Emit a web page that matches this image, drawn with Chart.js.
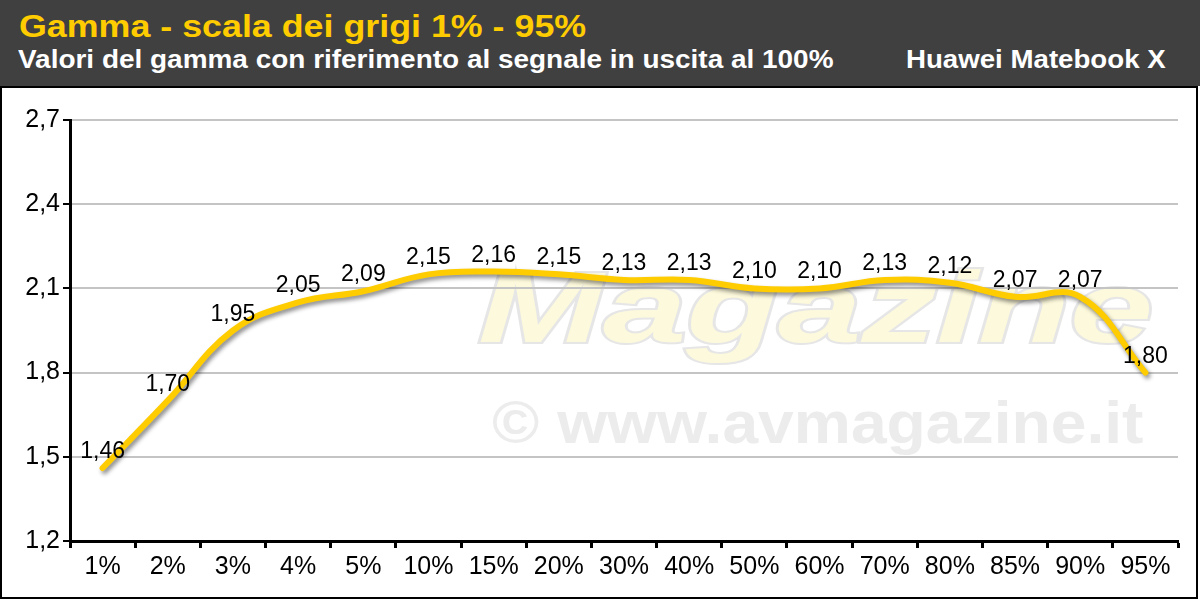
<!DOCTYPE html>
<html>
<head>
<meta charset="utf-8">
<script src="https://cdn.jsdelivr.net/npm/chart.js@4.4.1/dist/chart.umd.min.js"></script>
<style>
  html, body { margin: 0; padding: 0; width: 1200px; height: 600px; overflow: hidden; background: #ffffff; font-family: "Liberation Sans", Arial, sans-serif; }
  #header { position: absolute; left: 0; top: 0; width: 1200px; height: 86px; background: #404040; }
  #title { position: absolute; left: 19px; top: 11px; font-size: 31px; line-height: 31px; font-weight: bold; color: #FFCC00; white-space: nowrap; transform: scaleX(1.155); transform-origin: left top; }
  #subtitle { position: absolute; left: 18px; top: 47px; font-size: 25px; line-height: 25px; font-weight: bold; color: #ffffff; white-space: nowrap; transform: scaleX(1.118); transform-origin: left top; }
  #device { position: absolute; left: 906px; top: 47px; font-size: 25px; line-height: 25px; font-weight: bold; color: #ffffff; white-space: nowrap; transform: scaleX(1.106); transform-origin: left top; }
  #panel { position: absolute; left: 0; top: 86px; width: 1194px; height: 509px; border: 2px solid #000; background: #fff; }
  #wrap { position: absolute; left: 0; top: 0; width: 1200px; height: 600px; }
</style>
</head>
<body>
<div id="header">
  <div id="title">Gamma - scala dei grigi 1% - 95%</div>
  <div id="subtitle">Valori del gamma con riferimento al segnale in uscita al 100%</div>
  <div id="device">Huawei Matebook X</div>
</div>
<div id="panel"></div>
<div id="wrap"><canvas id="c" width="1200" height="600"></canvas></div>
<script>
const categories = ["1%", "2%", "3%", "4%", "5%", "10%", "15%", "20%", "30%", "40%", "50%", "60%", "70%", "80%", "85%", "90%", "95%"];
const gammaValues = [1.46, 1.70, 1.95, 2.05, 2.09, 2.15, 2.16, 2.15, 2.13, 2.13, 2.10, 2.10, 2.13, 2.12, 2.07, 2.07, 1.80];
const yTicks = [1.2, 1.5, 1.8, 2.1, 2.4, 2.7];

const fmt = v => v.toFixed(2).replace('.', ',');
const fmtTick = v => v.toFixed(1).replace('.', ',');

const watermark = {
  id: 'watermark',
  beforeDraw(chart) {
    const ctx = chart.ctx;
    ctx.save();
    ctx.translate(478, 342);
    ctx.scale(1.5, 1);
    ctx.font = 'italic bold 100px "Liberation Sans", Arial, sans-serif';
    ctx.textBaseline = 'alphabetic';
    ctx.fillStyle = '#fdf9dc';
    ctx.strokeStyle = '#e6e6e6';
    ctx.lineWidth = 4;
    ctx.strokeText('Magazine', 0, 0);
    ctx.fillText('Magazine', 0, 0);
    ctx.restore();
    ctx.save();
    ctx.translate(492, 443);
    ctx.scale(1.07, 1);
    ctx.font = 'bold 60px "Liberation Sans", Arial, sans-serif';
    ctx.fillStyle = '#ececec';
    ctx.fillText('\u00a9 www.avmagazine.it', 0, 0);
    ctx.restore();
  }
};

const lineShadow = {
  id: 'lineShadow',
  beforeDatasetDraw(chart) {
    const ctx = chart.ctx;
    ctx.save();
    ctx.shadowColor = 'rgba(0,0,0,0.45)';
    ctx.shadowBlur = 4;
    ctx.shadowOffsetX = 2;
    ctx.shadowOffsetY = 3;
  },
  afterDatasetDraw(chart) {
    chart.ctx.restore();
  }
};

const valueLabels = {
  id: 'valueLabels',
  afterDatasetsDraw(chart) {
    const ctx = chart.ctx;
    const meta = chart.getDatasetMeta(0);
    ctx.save();
    ctx.font = '23px "Liberation Sans", Arial, sans-serif';
    ctx.fillStyle = '#000';
    ctx.textAlign = 'center';
    ctx.textBaseline = 'alphabetic';
    meta.data.forEach((pt, i) => {
      ctx.fillText(fmt(gammaValues[i]), pt.x, pt.y - 10);
    });
    ctx.restore();
  }
};

new Chart(document.getElementById('c'), {
  type: 'line',
  data: {
    labels: categories,
    datasets: [{
      data: gammaValues,
      borderColor: '#FFCC00',
      borderWidth: 6,
      tension: 0.4,
      pointRadius: 0,
      fill: false,
      borderCapStyle: 'round',
      borderJoinStyle: 'round'
    }]
  },
  options: {
    responsive: false,
    animation: false,
    events: [],
    layout: { padding: { left: 8, right: 22, top: 120, bottom: 0 } },
    plugins: { legend: { display: false }, tooltip: { enabled: false }, title: { display: false } },
    scales: {
      x: {
        offset: true,
        grid: { offset: true, drawOnChartArea: false, tickLength: 7, tickColor: '#000', tickWidth: 3 },
        border: { color: '#000', width: 3 },
        ticks: { color: '#000', font: { size: 25, family: '"Liberation Sans", Arial, sans-serif' }, padding: 4, maxRotation: 0, autoSkip: false },
        afterFit(s) { s.height = 59; }
      },
      y: {
        min: 1.2, max: 2.7,
        afterBuildTicks(s) { s.ticks = yTicks.map(v => ({ value: v })); },
        grid: { color: '#c4c4c4', lineWidth: 2, tickLength: 7, tickColor: '#000', tickWidth: 2 },
        border: { color: '#000', width: 3 },
        ticks: { color: '#000', font: { size: 25, family: '"Liberation Sans", Arial, sans-serif' }, padding: 3, callback: v => fmtTick(v) },
        afterFit(s) { s.width = 62; }
      }
    }
  },
  plugins: [watermark, lineShadow, valueLabels]
});
</script>
</body>
</html>
